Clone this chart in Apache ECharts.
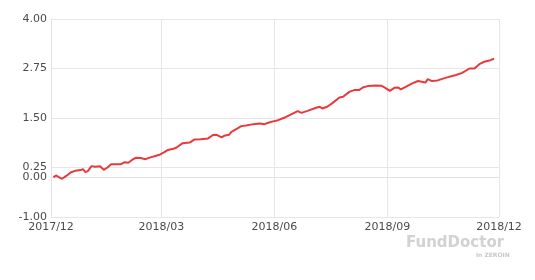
<!DOCTYPE html>
<html><head><meta charset="utf-8">
<script src="https://cdn.jsdelivr.net/npm/echarts@6/dist/echarts.min.js"></script>
<style>html,body{margin:0;padding:0;background:#fff}#c{width:535px;height:280px}</style>
</head><body><div id="c"></div>
<script>
const dates = ["2017-12-03","2017-12-05","2017-12-07","2017-12-10","2017-12-14","2017-12-17","2017-12-21","2017-12-25","2017-12-27","2017-12-29","2017-12-31",
"2018-01-03","2018-01-06","2018-01-10","2018-01-13","2018-01-16","2018-01-19","2018-01-23","2018-01-27","2018-01-30","2018-02-02","2018-02-05","2018-02-08","2018-02-12","2018-02-16","2018-02-20","2018-02-24","2018-02-28",
"2018-03-03","2018-03-06","2018-03-10","2018-03-13","2018-03-18","2018-03-24","2018-03-28","2018-04-02","2018-04-08","2018-04-12","2018-04-15","2018-04-19","2018-04-21","2018-04-25","2018-04-27",
"2018-05-02","2018-05-05","2018-05-09","2018-05-15","2018-05-20","2018-05-24","2018-05-27","2018-05-31","2018-06-04","2018-06-09","2018-06-15","2018-06-20","2018-06-23","2018-06-28",
"2018-07-05","2018-07-08","2018-07-10","2018-07-14","2018-07-18","2018-07-24","2018-07-27","2018-08-01","2018-08-05","2018-08-09","2018-08-12","2018-08-16","2018-08-23","2018-08-27","2018-08-30",
"2018-09-03","2018-09-07","2018-09-10","2018-09-12","2018-09-16","2018-09-21","2018-09-26","2018-10-02","2018-10-04","2018-10-07","2018-10-12","2018-10-19","2018-10-27",
"2018-11-01","2018-11-07","2018-11-11","2018-11-15","2018-11-19","2018-11-24","2018-11-27"];
const values = [0.00,0.05,0.015,-0.035,0.05,0.125,0.17,0.185,0.21,0.135,0.16,
0.285,0.27,0.28,0.19,0.25,0.33,0.335,0.335,0.385,0.37,0.44,0.495,0.49,0.46,0.505,0.54,0.58,
0.63,0.69,0.715,0.75,0.86,0.88,0.96,0.965,0.985,1.07,1.075,1.01,1.05,1.075,1.15,
1.24,1.295,1.31,1.345,1.36,1.345,1.38,1.415,1.445,1.505,1.6,1.675,1.63,1.68,
1.76,1.785,1.74,1.785,1.87,2.02,2.035,2.16,2.205,2.205,2.27,2.305,2.32,2.315,2.265,
2.185,2.265,2.27,2.22,2.285,2.37,2.435,2.395,2.48,2.435,2.45,2.52,2.585,
2.64,2.75,2.75,2.86,2.92,2.96,2.995];
const yTicks = [-1.00, 0.00, 0.25, 1.50, 2.75, 4.00];
const xTicks = ["2017-12-01","2018-03-01","2018-06-01","2018-09-01","2018-12-01"];

const ts = d => Date.UTC(+d.slice(0,4), +d.slice(5,7)-1, +d.slice(8,10));
const xTickTs = xTicks.map(ts);
const chart = echarts.init(document.getElementById('c'), null, {renderer:'canvas'});
chart.setOption({
  animation: false,
  grid: {left: 51, right: 36, top: 19, bottom: 63, containLabel: false},
  xAxis: {
    type: 'value',
    min: xTickTs[0], max: xTickTs[xTickTs.length-1],
    axisLine: {show: true, lineStyle: {color: '#e3e3e3'}},
    axisTick: {show: false, customValues: xTickTs},
    splitLine: {show: true, lineStyle: {color: '#e6e6e6', width: 1}},
    axisLabel: {
      customValues: xTickTs,
      color: '#4a4a4a', fontFamily: 'DejaVu Sans', fontSize: 11, margin: 5,
      formatter: v => { const d = new Date(v); return d.getUTCFullYear() + '/' + String(d.getUTCMonth()+1).padStart(2,'0'); },
      hideOverlap: false, showMinLabel: true, showMaxLabel: true
    }
  },
  yAxis: {
    type: 'value', min: -1, max: 4,
    axisLine: {show: true, lineStyle: {color: '#e3e3e3'}},
    axisTick: {show: false, customValues: yTicks},
    splitLine: {show: true, lineStyle: {color: '#e6e6e6', width: 1}},
    axisLabel: {
      customValues: yTicks,
      color: '#4a4a4a', fontFamily: 'DejaVu Sans', fontSize: 11, margin: 4,
      formatter: v => v.toFixed(2)
    }
  },
  series: [{
    type: 'line', showSymbol: false, smooth: false,
    data: dates.map((d,i) => [ts(d), values[i]]),
    lineStyle: {color: '#e63a3c', width: 2},
    itemStyle: {color: '#e63a3c'}
  }],
  graphic: [
    {type: 'text', left: 406, top: 236, style: {text: 'FundDoctor', fill: '#d2d2d2', font: 'bold 15px "DejaVu Sans"'}},
    {type: 'text', left: 476, top: 252, style: {text: 'in ZEROIN', fill: '#c8c8c8', font: 'bold 6px "DejaVu Sans"'}}
  ]
});
</script></body></html>
